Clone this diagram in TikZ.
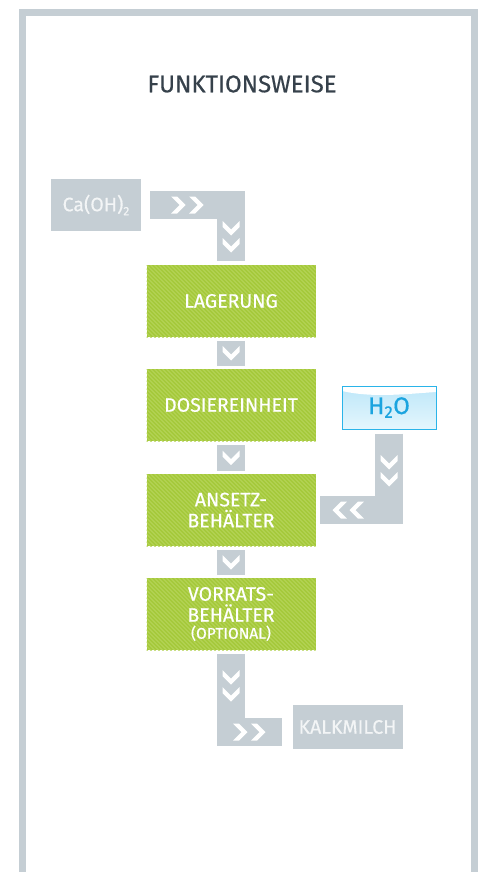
\documentclass[tikz,border=0pt]{standalone}
\usepackage{fontspec}
\setmainfont{Fira Sans}[FakeBold=0.5]
\usetikzlibrary{calc}

\definecolor{framegray}{HTML}{C5CED4}
\definecolor{boxgreen}{HTML}{A5C93B}
\definecolor{stripegreen}{HTML}{B6D45A}
\definecolor{titlegray}{HTML}{36414B}
\definecolor{watercyan}{HTML}{2AB4E9}
\definecolor{watertop}{HTML}{BDE7F9}
\definecolor{waterbottom}{HTML}{E4F6FD}
\definecolor{watertext}{HTML}{1BA4DF}
\definecolor{graytext}{HTML}{F3F5F6}

\tikzset{
  greenbox/.style={fill=boxgreen, text=white, align=center, inner sep=0pt,
    minimum width=169pt, minimum height=72pt,
    font=\fontsize{19.5}{21}\selectfont,
    path picture={\foreach \i in {-80,-76,...,176}
      \draw[stripegreen, line width=0.9pt] ([xshift=\i pt]path picture bounding box.north west) -- ++(80pt,-80pt);}},
  graybox/.style={fill=framegray, text=graytext, inner sep=0pt,
    font=\fontsize{19.5}{21}\selectfont},
  h2obox/.style={draw=watercyan, line width=1pt, top color=watertop, bottom color=waterbottom,
    minimum width=94pt, minimum height=43pt, inner sep=0pt, text=watertext,
    font=\fontsize{24}{26}\selectfont,
    path picture={\fill[white] ([yshift=-5pt]path picture bounding box.north west)
      .. controls +(30pt,-7pt) and +(-30pt,-2pt) .. ([yshift=-6pt]path picture bounding box.north east)
      |- (path picture bounding box.north west) -- cycle;}},
  bar/.style={draw=framegray, line width=28pt, line join=miter},
  chev/.pic={\fill[white] (-8.5,-7) -- (0,1.5) -- (8.5,-7) -- (8.5,-1) -- (0,7.5) -- (-8.5,-1) -- cycle;}
}

\begin{document}
\begin{tikzpicture}[x=1pt,y=-1pt]
\useasboundingbox (0,0) rectangle (482,872);

% frame and title
\draw[framegray, line width=6.8pt, line join=miter] (22.3,880) |- (474.5,12.8) -- (474.5,880);
\node[font=\fontsize{24}{26}\selectfont, text=titlegray] (title) at (242,84) {FUNKTIONSWEISE};

% boxes
\node[graybox, minimum width=90pt, minimum height=52pt] (ca) at (96,205) {Ca(OH)\raisebox{-4pt}{\fontsize{12}{12}\selectfont 2}};
\node[greenbox] (lag) at (231,301) {LAGERUNG};
\node[greenbox] (dos) at (231,405) {DOSIEREINHEIT};
\node[greenbox] (ans) at (231,510) {ANSETZ-\\BEHÄLTER};
\node[greenbox] (vor) at (231,614) {VORRATS-\\BEHÄLTER\\[-4pt]{\fontsize{15.5}{15}\selectfont (OPTIONAL)}};
\node[h2obox] (h2o) at (389,407.5) {H\textsubscript{2}O};
\node[graybox, minimum width=110pt, minimum height=44pt] (kalk) at (347.5,727) {KALKMILCH};

% connectors
\draw[bar] ([xshift=9pt]ca.east) -| ([yshift=4pt]lag.north);
\pic[rotate=90] at (178,205) {chev};
\pic[rotate=90] at (196,205) {chev};
\pic at (231,228) {chev};
\pic at (231,245) {chev};

\draw[bar] ([yshift=-4pt]lag.south) -- ([yshift=3pt]dos.north);
\pic at ($(lag.south)!0.5!(dos.north)$) {chev};
\draw[bar] ([yshift=-4pt]dos.south) -- ([yshift=3pt]ans.north);
\pic at ($(dos.south)!0.5!(ans.north)$) {chev};
\draw[bar] ([yshift=-4pt]ans.south) -- ([yshift=3pt]vor.north);
\pic at ($(ans.south)!0.5!(vor.north)$) {chev};

\draw[bar] ([yshift=-4pt]h2o.south) |- ([xshift=4pt]ans.east);
\pic at (389,462) {chev};
\pic at (389,479) {chev};
\pic[rotate=-90] at (340,510) {chev};
\pic[rotate=-90] at (357,510) {chev};

\draw[bar] ([yshift=-4pt]vor.south) |- ([xshift=-10pt,yshift=-5pt]kalk.west);
\pic at (231,677) {chev};
\pic at (231,694) {chev};
\pic[rotate=90] at (240,732) {chev};
\pic[rotate=90] at (258,732) {chev};
\end{tikzpicture}
\end{document}
